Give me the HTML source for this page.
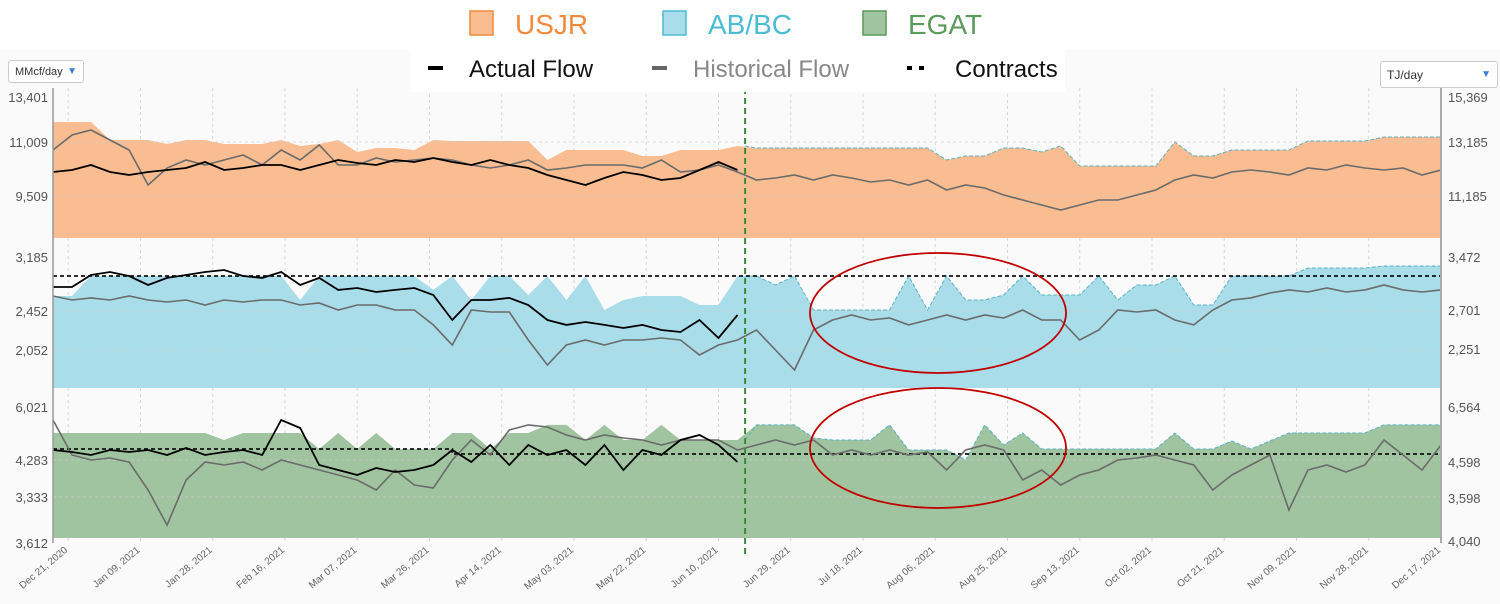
<!DOCTYPE html>
<html><head><meta charset="utf-8"><style>
body{margin:0;background:#fff;font-family:"Liberation Sans",sans-serif}
#wrap{position:relative;width:1500px;height:604px;overflow:hidden}
svg{position:absolute;left:0;top:0}
.dd{position:absolute;background:#fff;border:1px solid #ccc;border-radius:3px;font-size:11px;color:#333;box-sizing:border-box;padding:0 6px;display:flex;align-items:center;justify-content:space-between}
.dd span.a{color:#3a7bd5;font-size:10px}
</style></head><body>
<div id="wrap">
<svg id="c" width="1500" height="604"></svg>
<div class="dd" style="left:8px;top:60px;width:76px;height:23px">MMcf/day<span class="a">▼</span></div>
<div class="dd" style="left:1380px;top:61px;width:118px;height:27px;font-size:12px">TJ/day<span class="a">▼</span></div>
</div>
<script>
const dayStep = 5;
const dateTicks = ["Dec 21, 2020","Jan 09, 2021","Jan 28, 2021","Feb 16, 2021","Mar 07, 2021","Mar 26, 2021","Apr 14, 2021","May 03, 2021","May 22, 2021","Jun 10, 2021","Jun 29, 2021","Jul 18, 2021","Aug 06, 2021","Aug 25, 2021","Sep 13, 2021","Oct 02, 2021","Oct 21, 2021","Nov 09, 2021","Nov 28, 2021","Dec 17, 2021"];
const dateTickDays = [4,23,42,61,80,99,118,137,156,175,194,213,232,251,270,289,308,327,346,365];
const forecastDay = 182;

const usjrCap = [11565,11565,11565,11065,11065,11065,10953,11065,11065,10953,10953,10953,11065,10898,10953,11065,10731,10842,10842,10787,11065,11037,11037,11037,11037,11037,10509,10787,10787,10787,10787,10620,10620,10787,10787,10787,10898,10842,10842,10842,10842,10842,10842,10842,10842,10842,10842,10509,10620,10620,10842,10842,10731,10898,10342,10342,10342,10342,10342,11009,10620,10620,10787,10787,10787,10787,11037,11037,11037,11037,11148,11148,11148,11148];
const usjrHist = [10787,11204,11343,11065,10787,9814,10286,10509,10370,10509,10648,10370,10787,10509,10926,10370,10370,10564,10453,10509,10564,10509,10370,10286,10370,10509,10231,10286,10370,10370,10370,10286,10509,10175,10231,10370,10175,9953,10008,10092,9953,10092,10008,9897,9953,9814,9953,9675,9814,9730,9536,9397,9258,9120,9258,9397,9397,9536,9675,9953,10092,10008,10175,10231,10175,10092,10286,10231,10370,10286,10231,10286,10092,10231];
const usjrActual = [10175,10231,10370,10175,10092,10175,10231,10286,10453,10231,10286,10370,10370,10231,10370,10509,10425,10370,10509,10453,10564,10453,10370,10509,10370,10286,10092,9953,9814,10008,10175,10092,9953,10008,10231,10453,10231];

const abCap = [2606,2606,2811,2811,2811,2811,2811,2811,2811,2811,2811,2811,2811,2565,2811,2811,2811,2811,2811,2811,2668,2811,2565,2811,2811,2616,2811,2565,2811,2462,2565,2606,2606,2606,2514,2514,2811,2811,2719,2811,2462,2462,2462,2462,2462,2811,2462,2811,2565,2565,2616,2811,2616,2616,2616,2811,2565,2719,2719,2811,2514,2514,2811,2811,2811,2811,2893,2893,2893,2893,2914,2914,2914,2914];
const abHist = [2606,2565,2586,2565,2606,2565,2544,2565,2514,2565,2544,2565,2565,2514,2534,2462,2514,2514,2462,2462,2309,2103,2462,2442,2442,2155,1898,2103,2155,2103,2155,2155,2175,2155,2001,2103,2155,2257,2052,1847,2257,2360,2411,2360,2380,2309,2360,2411,2360,2411,2380,2462,2360,2360,2155,2257,2462,2442,2462,2360,2309,2462,2565,2586,2637,2668,2647,2688,2647,2668,2719,2668,2647,2668];
const abActual = [2698,2698,2821,2852,2811,2719,2791,2821,2852,2873,2811,2791,2852,2719,2791,2668,2688,2647,2668,2688,2616,2360,2565,2565,2586,2514,2360,2309,2339,2309,2278,2309,2257,2237,2360,2175,2411];
const abContract = [[0,2811],[365,2811]];

const egatCap = [4977,4977,4977,4977,4977,4977,4977,4977,4977,4797,4977,4977,4977,4977,4566,4977,4566,4977,4566,4566,4566,4977,4977,4566,4977,4977,5183,5183,4797,5183,4797,4797,5183,4797,4797,4797,4797,5183,5183,5183,4848,4797,4797,4797,5183,4540,4540,4540,4283,5183,4669,4977,4566,4566,4566,4566,4566,4566,4566,4977,4566,4566,4771,4566,4771,4977,4977,4977,4977,4977,5183,5183,5183,5183];
const egatHist = [5311,4412,4283,4334,4232,3512,2612,3769,4232,4155,4232,4026,4283,4155,4026,3898,3769,3512,4026,3641,3563,4283,4797,4412,5054,5183,5131,4926,4797,4926,4848,4797,4669,4797,4797,4797,4540,4669,4797,4669,4797,4412,4540,4412,4540,4412,4489,4026,4540,4669,4540,3769,4026,3641,3898,4026,4283,4334,4412,4283,4155,3512,3898,4155,4412,2998,4026,4155,3975,4155,4797,4412,4026,4669];
const egatActual = [4540,4489,4412,4540,4489,4540,4412,4592,4412,4489,4540,4412,5311,5105,4155,4026,3898,4077,3975,4026,4155,4540,4232,4669,4155,4669,4412,4540,4155,4669,4026,4540,4412,4797,4926,4669,4232];
const egatContract = [[0,4566],[105,4566],[105,4437],[365,4437]];

const usjrLeftTicks = [11009,9509]; const usjrRightTicks = [13185,11185];
const abLeftTicks = [2452,2052]; const abRightTicks = [2701,2251];
const egatLeftTicks = [4283,3333]; const egatRightTicks = [4598,3598];

const NS="http://www.w3.org/2000/svg";
const svg=document.getElementById('c');
function mk(tag,attrs,parent){const e=document.createElementNS(NS,tag);for(const k in attrs)e.setAttribute(k,attrs[k]);(parent||svg).appendChild(e);return e;}
const X0=53, X1=1441, D=365;
const xs=d=>X0+(X1-X0)*d/D;
function lin(v0,y0,v1,y1){return v=>y0+(v-v0)*(y1-y0)/(v1-v0);}

const panels=[
 {name:'usjr',top:88,bottom:238,y:lin(11009,142,9509,196),yr:lin(13185,142,11185,196),fill:'#f9bd91',cap:usjrCap,hist:usjrHist,act:usjrActual,contract:null,lt:usjrLeftTicks,rt:usjrRightTicks,topL:'13,401',topR:'15,369'},
 {name:'abbc',top:248,bottom:388,y:lin(2452,311,2052,350),yr:lin(2701,310,2251,349),fill:'#a9dde9',cap:abCap,hist:abHist,act:abActual,contract:abContract,lt:abLeftTicks,rt:abRightTicks,topL:'3,185',topR:'3,472'},
 {name:'egat',top:398,bottom:538,y:lin(4283,460,3333,497),yr:lin(4598,462,3598,498),fill:'#9fc49f',cap:egatCap,hist:egatHist,act:egatActual,contract:egatContract,lt:egatLeftTicks,rt:egatRightTicks,topL:'6,021',topR:'6,564'}
];

// background
let bg=mk('rect',{x:0,y:50,width:1500,height:554,fill:'#fafafa'});



// vertical grid
dateTickDays.forEach((d,i)=>{
 const g=mk('line',{x1:xs(d),x2:xs(d),y1:88,y2:543,stroke:'#d8d8d8','stroke-dasharray':'3,3'});
 
 
 const t=mk('text',{x:xs(d),y:551,'font-size':10,fill:'#666','text-anchor':'end',transform:`rotate(-40 ${xs(d)} 551)`});
 t.textContent=dateTicks[i];
 
 
});

panels.forEach(p=>{
 const g=mk('g',{});
 
 
 // area
 let d=`M${xs(0)},${p.bottom}`;
 p.cap.forEach((v,i)=>{d+=` L${xs(i*dayStep).toFixed(1)},${p.y(v).toFixed(1)}`;});
 d+=` L${xs(D)},${p.y(p.cap[p.cap.length-1])} L${xs(D)},${p.bottom} Z`;
 const a=mk('path',{d,fill:p.fill},g);
 
 
 // forecast dashed top edge
 let dd='';
 p.cap.forEach((v,i)=>{const day=i*dayStep;if(day>=forecastDay-5){dd+=(dd?' L':'M')+xs(Math.max(day,forecastDay)).toFixed(1)+','+p.y(v).toFixed(1);}});
 dd+=` L${xs(D)},${p.y(p.cap[p.cap.length-1])}`;
 const e=mk('path',{d:dd,fill:'none',stroke:'#5ab4c4','stroke-width':1,'stroke-dasharray':'4,2'},g);
 
 
 // horizontal grid + ticks
 p.lt.forEach(v=>{
  const l=mk('line',{x1:X0,x2:X1,y1:p.y(v),y2:p.y(v),stroke:'#cfcfcf','stroke-dasharray':'3,3','stroke-opacity':0.7},g);
  
  
  const t=mk('text',{x:48,y:p.y(v)+5,'font-size':13,fill:'#555','text-anchor':'end'},g);
  t.textContent=v.toLocaleString('en-US');
  
  
 });
 p.rt.forEach(v=>{
  const t=mk('text',{x:1448,y:p.yr(v)+5,'font-size':13,fill:'#555'},g);
  t.textContent=v.toLocaleString('en-US');
  
  
 });
 const tl=mk('text',{x:48,y:p.top+14,'font-size':13,fill:'#555','text-anchor':'end'},g);
 tl.textContent=p.topL;
 
 
 const tr=mk('text',{x:1448,y:p.top+14,'font-size':13,fill:'#555'},g);
 tr.textContent=p.topR;
 
 
 // contract
 if(p.contract){
  const cd=p.contract.map((c,i)=>(i?'L':'M')+xs(c[0]).toFixed(1)+','+p.y(c[1]).toFixed(1)).join(' ');
  const c=mk('path',{d:cd,fill:'none',stroke:'#111','stroke-width':1.8,'stroke-dasharray':'4,3'},g);
  
  
 }
 // historical
 const hd=p.hist.map((v,i)=>(i?'L':'M')+xs(i*dayStep).toFixed(1)+','+p.y(v).toFixed(1)).join(' ');
 const h=mk('path',{d:hd,fill:'none',stroke:'#6b6b6b','stroke-width':1.6},g);
 
 
 // actual
 const ad=p.act.map((v,i)=>(i?'L':'M')+xs(i*dayStep).toFixed(1)+','+p.y(v).toFixed(1)).join(' ');
 const ac=mk('path',{d:ad,fill:'none',stroke:'#000','stroke-width':1.8},g);
 
 
});

// axes
let la=mk('line',{x1:X0,x2:X0,y1:88,y2:543,stroke:'#999','stroke-width':1.5});


let ra=mk('line',{x1:X1,x2:X1,y1:88,y2:543,stroke:'#aaa','stroke-width':2});


let lb=mk('text',{x:48,y:548,'font-size':13,fill:'#555','text-anchor':'end'});
lb.textContent='3,612';


let rb=mk('text',{x:1448,y:546,'font-size':13,fill:'#555'});
rb.textContent='4,040';



// forecast divider
let fv=mk('line',{x1:xs(forecastDay),x2:xs(forecastDay),y1:88,y2:558,stroke:'#3a8a3a','stroke-width':2,'stroke-dasharray':'6,4'});



// ellipses
let e1=mk('ellipse',{cx:938,cy:313,rx:128,ry:60,fill:'none',stroke:'#c00000','stroke-width':1.8});


let e2=mk('ellipse',{cx:938,cy:448,rx:128,ry:60,fill:'none',stroke:'#c00000','stroke-width':1.8});



// legend
let lbox=mk('rect',{x:410,y:45,width:655,height:47,fill:'#fff'});


const legTop=[["USJR",470,'#f9bd91','#f08a3c'],["AB/BC",663,'#a9dde9','#4bbcd3'],["EGAT",863,'#9fc49f','#5a9a5a']];
legTop.forEach(l=>{
 const r=mk('rect',{x:l[1],y:11,width:23,height:24,fill:l[2],stroke:l[3],'stroke-width':1.5});
 
 
 const t=mk('text',{x:l[1]+45,y:34,'font-size':28,fill:l[3]});
 t.textContent=l[0];
 
 
});
const legBot=[["Actual Flow",428,'#000','#111',''],["Historical Flow",652,'#666','#888',''],["Contracts",907,'#000','#111','5,7']];
legBot.forEach(l=>{
 const ln=mk('line',{x1:l[1],x2:l[1]+(l[4]?20:15),y1:68,y2:68,stroke:l[2],'stroke-width':4,'stroke-dasharray':l[4]||'none'});
 
 
 const t=mk('text',{x:l[1]+(l[4]?48:41),y:77,'font-size':24,fill:l[3]});
 t.textContent=l[0];
 
 
});
</script>
</body></html>
